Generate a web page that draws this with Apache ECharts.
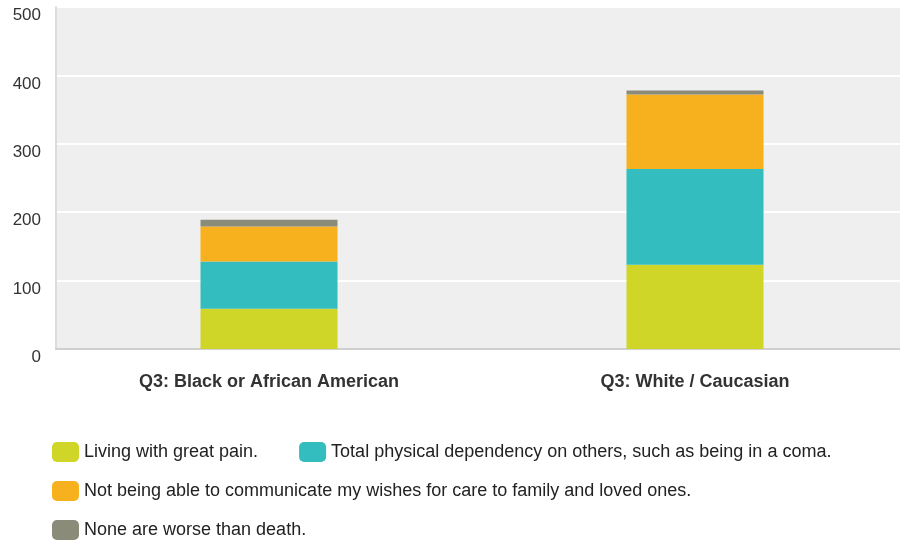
<!DOCTYPE html>
<html>
<head>
<meta charset="utf-8">
<script src="https://cdn.jsdelivr.net/npm/echarts@6/dist/echarts.min.js"></script>
<style>
  html, body { margin: 0; padding: 0; background: #fff; }
  #chart { width: 900px; height: 540px; }
</style>
</head>
<body>
<div id="chart"></div>
<script>
const categories = ["Q3: Black or African American", "Q3: White / Caucasian"];
const seriesNames = [
  "Living with great pain.",
  "Total physical dependency on others, such as being in a coma.",
  "Not being able to communicate my wishes for care to family and loved ones.",
  "None are worse than death."
];
const painValues = [59, 123];
const dependencyValues = [69, 140];
const communicateValues = [51, 109];
const noneValues = [10, 6];
const yTicks = [0, 100, 200, 300, 400, 500];

const colors = ["#d0d628", "#33bdbf", "#f7b01e", "#8b8b7a"];
const allValues = [painValues, dependencyValues, communicateValues, noneValues];

const chart = echarts.init(document.getElementById("chart"));

const legendBase = {
  left: 52,
  padding: 0,
  orient: "horizontal",
  itemWidth: 27,
  itemHeight: 20,
  itemGap: 41,
  icon: "roundRect",
  textStyle: {
    fontFamily: "Liberation Sans, Arial, sans-serif",
    fontSize: 18,
    color: "#222"
  }
};

const option = {
  animation: false,
  color: colors,
  grid: {
    left: 56,
    top: 7,
    width: 852,
    bottom: 191,
    outerBoundsMode: "none",
    backgroundColor: "#efefef",
    show: true,
    borderWidth: 0
  },
  legend: [
    Object.assign({}, legendBase, { top: 442, data: [seriesNames[0], seriesNames[1]] }),
    Object.assign({}, legendBase, { top: 481, data: [seriesNames[2]] }),
    Object.assign({}, legendBase, { top: 520, data: [seriesNames[3]] })
  ],
  xAxis: {
    type: "category",
    data: categories,
    axisTick: { show: false },
    axisLine: { show: true, lineStyle: { color: "#cfcfcf", width: 2 } },
    axisLabel: {
      fontFamily: "Liberation Sans, Arial, sans-serif",
      fontSize: 18,
      fontWeight: "bold",
      color: "#333",
      margin: 24
    }
  },
  yAxis: {
    type: "value",
    min: yTicks[0],
    max: yTicks[yTicks.length - 1],
    interval: 100,
    axisLine: { show: true, lineStyle: { color: "#dcdcdc", width: 2 } },
    axisTick: { show: false },
    splitLine: { lineStyle: { color: "#ffffff", width: 2 } },
    axisLabel: {
      fontFamily: "Liberation Sans, Arial, sans-serif",
      fontSize: 17,
      color: "#333",
      margin: 15,
      verticalAlign: "top"
    }
  },
  series: seriesNames.map((name, i) => ({
    name: name,
    type: "bar",
    stack: "total",
    barWidth: 137,
    data: allValues[i],
    itemStyle: { color: colors[i] }
  }))
};

chart.setOption(option);
</script>
</body>
</html>
